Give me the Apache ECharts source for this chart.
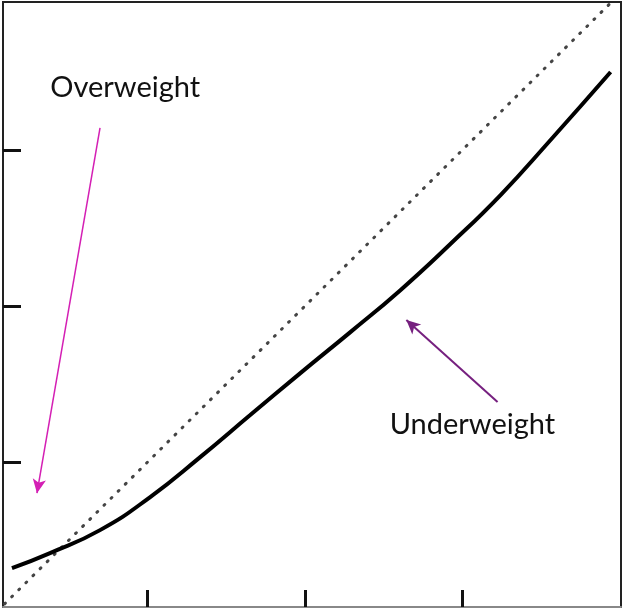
<!DOCTYPE html>
<html>
<head>
<meta charset="utf-8">
<script src="https://cdn.jsdelivr.net/npm/echarts@6/dist/echarts.min.js"></script>
<style>html,body{margin:0;padding:0;background:#fff}#c{width:625px;height:610px}</style>
</head>
<body>
<div id="c"></div>
<script>
// Data
const curveX = [0.137, 0.379, 0.697, 1.016, 1.334, 1.652, 1.971, 2.289, 2.607, 2.925, 3.244, 3.562, 3.944];
const curveY = [0.319, 0.416, 0.563, 0.775, 1.031, 1.301, 1.57, 1.833, 2.102, 2.398, 2.712, 3.065, 3.501];
const diagX = [0, 4.1];
const diagY = [0, 4.1];
const tickValues = [1, 2, 3];
const overArrow = [[0.697, 3.142], [0.296, 0.80]];
const underArrow = [[3.225, 1.384], [2.645, 1.91]];
const labels = [
  {name: 'Overweight', coord: [0.857, 3.40]},
  {name: 'Underweight', coord: [3.065, 1.237]}
];

const chart = echarts.init(document.getElementById('c'));
const zip = (a, b) => a.map((v, i) => [v, b[i]]);
chart.setOption({
  animation: false,
  grid: {left: 3, top: 2, right: 4, bottom: 3, show: true, borderColor: '#222', borderWidth: 2, backgroundColor: '#fff'},
  xAxis: {
    type: 'value', min: 0.08, max: 4.01, interval: 1,
    axisLine: {show: true, lineStyle: {color: '#888', width: 2}},
    axisTick: {show: true, inside: true, length: 17, lineStyle: {color: '#111', width: 3},
      customValues: tickValues},
    axisLabel: {show: false},
    splitLine: {show: false}
  },
  yAxis: {
    type: 'value', min: 0.07, max: 3.95,
    axisLine: {show: true, lineStyle: {color: '#222', width: 2}},
    axisTick: {show: true, inside: true, length: 18, lineStyle: {color: '#111', width: 3},
      customValues: tickValues},
    axisLabel: {show: false},
    splitLine: {show: false}
  },
  series: [
    {
      type: 'line', data: zip(diagX, diagY), symbol: 'none', silent: true,
      lineStyle: {color: '#444', width: 3, type: [1, 9], cap: 'round'}
    },
    {
      type: 'line', data: zip(curveX, curveY), symbol: 'none', smooth: 0.5,
      lineStyle: {color: '#000', width: 4}
    },
    {
      type: 'line', data: [], symbol: 'none',
      markLine: {
        silent: true, animation: false,
        symbol: ['none', 'arrow'], symbolSize: [10, 14],
        label: {show: false},
        data: [
          [{coord: overArrow[0], lineStyle: {color: '#d41fb4', width: 1.5, type: 'solid'}, itemStyle: {color: '#d41fb4'}}, {coord: overArrow[1]}],
          [{coord: underArrow[0], lineStyle: {color: '#76207f', width: 2, type: 'solid'}, itemStyle: {color: '#76207f'}}, {coord: underArrow[1]}]
        ]
      },
      markPoint: {
        symbol: 'circle', symbolSize: 0, silent: true,
        label: {show: true, position: 'inside', formatter: '{b}', color: '#111', fontSize: 29, fontFamily: 'Lato'},
        data: labels
      }
    }
  ]
});
</script>
</body>
</html>
